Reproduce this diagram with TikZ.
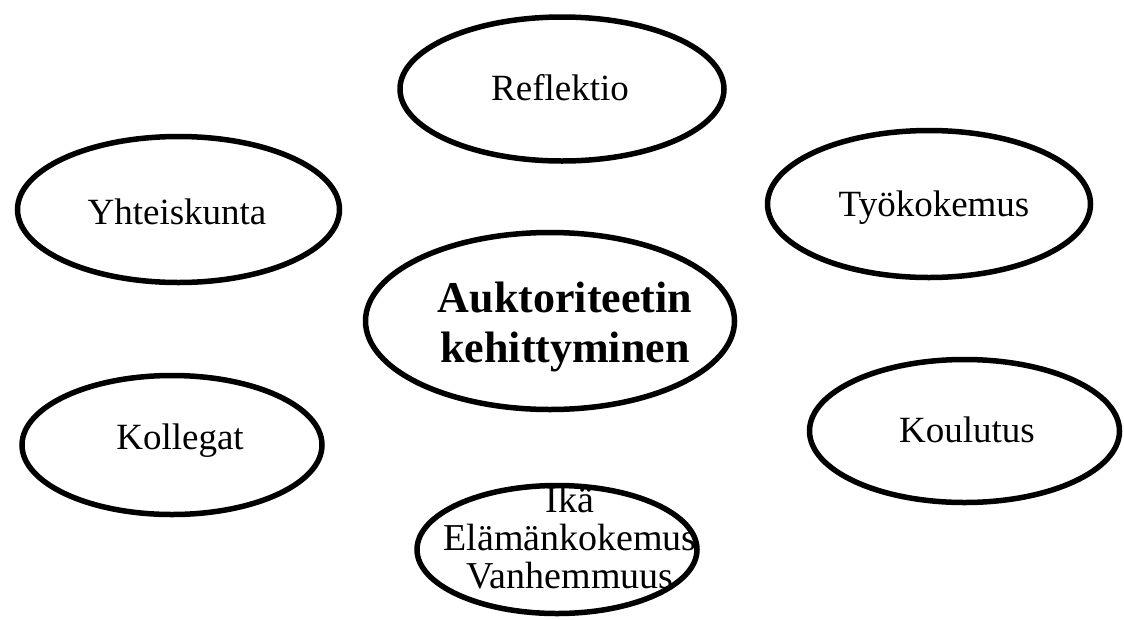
\documentclass[tikz,border=0pt]{standalone}
\usepackage{fontspec}
\setmainfont{Liberation Serif}
\usetikzlibrary{shapes.geometric}
\begin{document}
\begin{tikzpicture}[x=1pt,y=-1pt,
  ell/.style={ellipse, draw=black, line width=5.5pt, inner sep=0pt},
  lbl/.style={font=\fontsize{37}{38}\selectfont, text=black, align=center},
  lblb/.style={font=\fontsize{38}{38}\selectfont, text=black, align=center},
  bold/.style={font=\fontsize{44}{50}\selectfont\bfseries, text=black, align=center}]
\useasboundingbox (0,0) rectangle (1124,619);
\node[ell, minimum width=324pt, minimum height=144pt] (refl) at (562,89) {};
\node[lbl] (refltext) at (560,88) {Reflektio};
\node[ell, minimum width=322pt, minimum height=146pt] (yht) at (178.5,209.5) {};
\node[lbl] (yhttext) at (177,212) {Yhteiskunta};
\node[ell, minimum width=323pt, minimum height=147pt] (tyo) at (929,204) {};
\node[lbl] (tyotext) at (934,208) {Työkokemus};
\node[ell, minimum width=369pt, minimum height=177pt] (auk) at (550,321) {};
\node[bold] (auktext) at (565,327) {Auktoriteetin\\kehittyminen};
\node[ell, minimum width=300pt, minimum height=139pt] (kol) at (172,445) {};
\node[lbl] (koltext) at (180,441) {Kollegat};
\node[ell, minimum width=310pt, minimum height=143pt] (kou) at (964.5,431) {};
\node[lbl] (koutext) at (967,430) {Koulutus};
\node[ell, minimum width=280pt, minimum height=128pt] (ika) at (557,549.5) {};
\node[lblb] (ikatext) at (570,538) {Ikä\\Elämänkokemus\\Vanhemmuus};
\end{tikzpicture}
\end{document}
